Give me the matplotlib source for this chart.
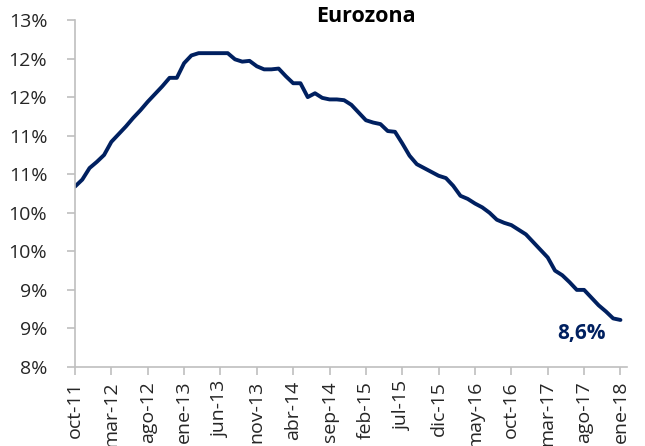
import matplotlib
matplotlib.use('Agg')
import matplotlib.pyplot as plt
import numpy as np
from matplotlib.ticker import FuncFormatter

######## DATA #########
months = ['ene', 'feb', 'mar', 'abr', 'may', 'jun',
          'jul', 'ago', 'sep', 'oct', 'nov', 'dic']

# Eurozone unemployment rate, monthly oct-11 .. ene-18
unemp = [10.34, 10.43, 10.58, 10.66, 10.75, 10.92, 11.02, 11.12, 11.23, 11.33,
         11.44, 11.54, 11.64, 11.75, 11.75, 11.94, 12.04, 12.07, 12.07, 12.07,
         12.07, 12.07, 11.99, 11.96, 11.97, 11.90, 11.86, 11.86, 11.87, 11.77,
         11.68, 11.68, 11.50, 11.55, 11.49, 11.47, 11.47, 11.46, 11.40, 11.30,
         11.20, 11.17, 11.15, 11.06, 11.05, 10.90, 10.74, 10.63, 10.58, 10.53,
         10.48, 10.45, 10.35, 10.22, 10.18, 10.12, 10.07, 10.00, 9.91, 9.87,
         9.84, 9.78, 9.72, 9.62, 9.52, 9.42, 9.25, 9.19, 9.10, 9.00,
         9.00, 8.90, 8.80, 8.72, 8.63, 8.61]

start_month, start_year = 10, 2011
yticks = [8.0, 8.5, 9.0, 9.5, 10.0, 10.5, 11.0, 11.5, 12.0, 12.5]
last_label = '8,6%'
title = 'Eurozona'
######################

navy = '#002060'
grey = '#BFBFBF'

x = np.arange(len(unemp))
labels = []
for i in x:
    m = start_month - 1 + i
    labels.append('%s-%02d' % (months[m % 12], (start_year + m // 12) % 100))

fig = plt.figure(figsize=(6.45, 4.46), dpi=100)
ax = fig.add_axes([75/645, 1-367/446, (627-75)/645, (367-20)/446])

ax.plot(x, unemp, color=navy, lw=2.8, solid_capstyle='round', solid_joinstyle='round')

ax.set_xlim(0, len(unemp) - 0.1)
ax.set_ylim(yticks[0], yticks[-1])

ax.set_yticks(yticks)
ax.yaxis.set_major_formatter(FuncFormatter(lambda v, p: '%d%%' % int(np.floor(v + 0.5))))
ax.set_xticks(x[::5])
ax.set_xticklabels(labels[::5], rotation=90, ha='center', va='top')

for s in ['top', 'right']:
    ax.spines[s].set_visible(False)
for s in ['left', 'bottom']:
    ax.spines[s].set_color(grey)
    ax.spines[s].set_linewidth(1.2)

ax.tick_params(axis='both', direction='out', color=grey, width=1.2,
               labelsize=14, labelcolor='#262626')
ax.tick_params(axis='y', length=6, pad=14)
ax.tick_params(axis='x', length=6, pad=4)

for t in ax.get_xticklabels() + ax.get_yticklabels():
    t.set_fontfamily('Open Sans')

fig.text(366/645, 1-17/446, title, ha='center', va='center',
         fontsize=15.5, fontweight='bold', fontfamily='Open Sans')
ax.annotate(last_label, xy=(x[-1], unemp[-1]), xytext=(-28, -10),
            textcoords='offset points', ha='center', va='center',
            fontsize=15, fontweight='bold', color=navy, fontfamily='Open Sans')

fig.savefig('out.png', dpi=100)
